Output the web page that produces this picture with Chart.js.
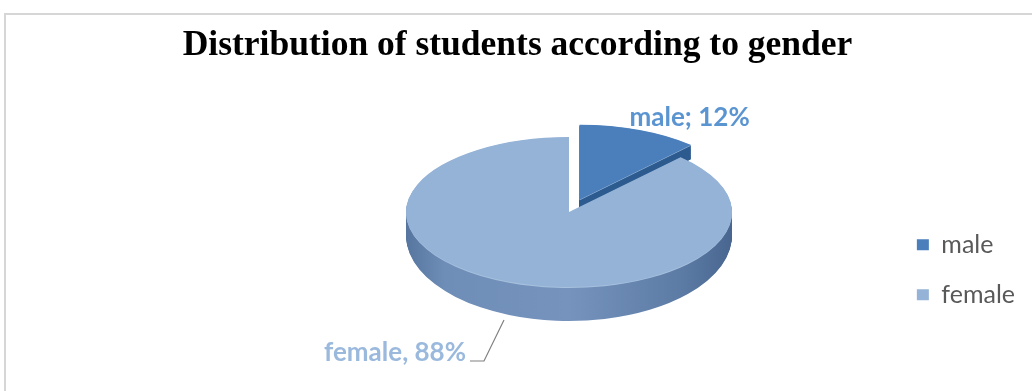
<!DOCTYPE html>
<html>
<head>
<meta charset="utf-8">
<script src="https://cdn.jsdelivr.net/npm/chart.js@4.4.0/dist/chart.umd.min.js"></script>
<style>
  html, body { margin: 0; padding: 0; background: #fff; }
  #wrap { position: relative; width: 1032px; height: 391px; }
</style>
</head>
<body>
<div id="wrap"><canvas id="c"></canvas></div>
<script>
const labels = ['male', 'female'];
const values = [12, 88];
const pointLabels = ['male; 12%', 'female, 88%'];

// colours of the top faces / sides / value labels
const topColors = ['#4a7fbc', '#95b3d7'];
const sideColors = ['#2e5c90', null]; // null -> gradient
const labelColors = ['#5b95d1', '#9ab9dd'];
const explode = [28, 0]; // pulled out slice (chart px)

// where the flattened pie goes on screen
const PIE = { cx: 569, cy: 212, rx: 163, ry: 75, depthBack: 13, depthFront: 34 };

function geom(chart) {
  const arcs = chart.getDatasetMeta(0).data;
  const R = arcs[0].outerRadius;
  return {
    arcs, R,
    sx: PIE.rx / R,
    sy: PIE.ry / R,
    b: (PIE.depthFront + PIE.depthBack) / 2,
    a: (PIE.depthFront - PIE.depthBack) / (2 * PIE.ry)
  };
}

// chart coords of a slice -> screen, f = 0 top face, f = 1 bottom of the side
function place(ctx, g, arc, i, f) {
  const mid = (arc.startAngle + arc.endAngle) / 2;
  ctx.translate(PIE.cx, PIE.cy + g.b * f);
  ctx.scale(g.sx, g.sy * (1 + g.a * f));
  ctx.translate(Math.cos(mid) * explode[i] - arc.x, Math.sin(mid) * explode[i] - arc.y);
}

function project(g, arc, i, angle, f) {
  const mid = (arc.startAngle + arc.endAngle) / 2;
  const dx = Math.cos(mid) * explode[i] + Math.cos(angle) * g.R;
  const dy = Math.sin(mid) * explode[i] + Math.sin(angle) * g.R;
  return {
    x: PIE.cx + dx * g.sx,
    y: PIE.cy + g.b * f + dy * g.sy * (1 + g.a * f)
  };
}

function drawWith(ctx, arc, fill) {
  const el = Object.create(arc);
  el.options = Object.assign({}, arc.options, { backgroundColor: fill, borderWidth: 0, offset: 0 });
  el.draw(ctx);
}

const framePlugin = {
  id: 'frame',
  beforeDraw(chart) {
    const ctx = chart.ctx;
    ctx.save();
    ctx.strokeStyle = '#d6d6d6';
    ctx.lineWidth = 2;
    ctx.beginPath();
    ctx.moveTo(5, chart.height);
    ctx.lineTo(5, 14);
    ctx.lineTo(chart.width, 14);
    ctx.stroke();
    ctx.restore();
  }
};

const pie3d = {
  id: 'pie3d',
  beforeDatasetsDraw(chart) {
    const ctx = chart.ctx;
    const g = geom(chart);
    const layers = Math.ceil(PIE.depthFront);
    g.arcs.forEach((arc, i) => {
      let side = sideColors[i];
      if (!side) {
        side = ctx.createLinearGradient(arc.x - g.R, 0, arc.x + g.R, 0);
        side.addColorStop(0, '#56769f');
        side.addColorStop(0.12, '#6e8db7');
        side.addColorStop(0.5, '#7593bd');
        side.addColorStop(0.85, '#5c7ba4');
        side.addColorStop(1, '#48668f');
      }
      for (let k = layers; k >= 1; k--) {
        ctx.save();
        place(ctx, g, arc, i, k / layers);
        drawWith(ctx, arc, k <= 1 ? '#a7c0de' : side);
        ctx.restore();
      }
      ctx.save();
      place(ctx, g, arc, i, 0);
      drawWith(ctx, arc, arc.options.backgroundColor);
      ctx.restore();
    });
    return false;
  }
};

const valueLabels = {
  id: 'valueLabels',
  afterDraw(chart) {
    const ctx = chart.ctx;
    const g = geom(chart);
    const [male, female] = g.arcs;
    ctx.save();
    ctx.font = 'bold 26px Lato';

    // male: best fit, above-right of the slice
    const mMid = (male.startAngle + male.endAngle) / 2;
    const p = project(g, male, 0, mMid, 0);
    ctx.fillStyle = labelColors[0];
    ctx.textAlign = 'center';
    ctx.textBaseline = 'middle';
    ctx.fillText(pointLabels[0], p.x + 50, p.y - 12);

    // female: outside with a leader line
    const fMid = (female.startAngle + female.endAngle) / 2;
    const q = project(g, female, 1, fMid, 1);
    const kx = q.x - 25, ky = q.y + 46;
    ctx.strokeStyle = '#808080';
    ctx.lineWidth = 1.2;
    ctx.beginPath();
    ctx.moveTo(q.x - 5, q.y + 5);
    ctx.lineTo(kx, ky);
    ctx.lineTo(kx - 14, ky);
    ctx.stroke();
    ctx.fillStyle = labelColors[1];
    ctx.textAlign = 'right';
    ctx.textBaseline = 'alphabetic';
    ctx.fillText(pointLabels[1], kx - 18, ky);
    ctx.restore();
  }
};

new Chart(document.getElementById('c'), {
  type: 'pie',
  data: {
    labels: labels,
    datasets: [{
      data: values,
      backgroundColor: topColors,
      borderWidth: 0,
      clip: false
    }]
  },
  options: {
    responsive: true,
    maintainAspectRatio: false,
    animation: false,
    events: [],
    layout: { padding: { top: 0, right: 7, bottom: 0, left: 10 } },
    plugins: {
      title: {
        display: true,
        text: 'Distribution of students according to gender',
        color: '#000',
        font: { family: 'Liberation Serif', size: 35.5, weight: 'bold' },
        padding: { top: 25, bottom: 7 }
      },
      legend: {
        position: 'right',
        align: 'center',
        title: { display: true, text: '', padding: { top: 0, bottom: 134 } },
        labels: {
          color: '#595959',
          font: { family: 'Lato', size: 25 },
          boxWidth: 12,
          boxHeight: 11,
          padding: 25
        }
      },
      tooltip: { enabled: false }
    }
  },
  plugins: [framePlugin, pie3d, valueLabels]
});
</script>
</body>
</html>
